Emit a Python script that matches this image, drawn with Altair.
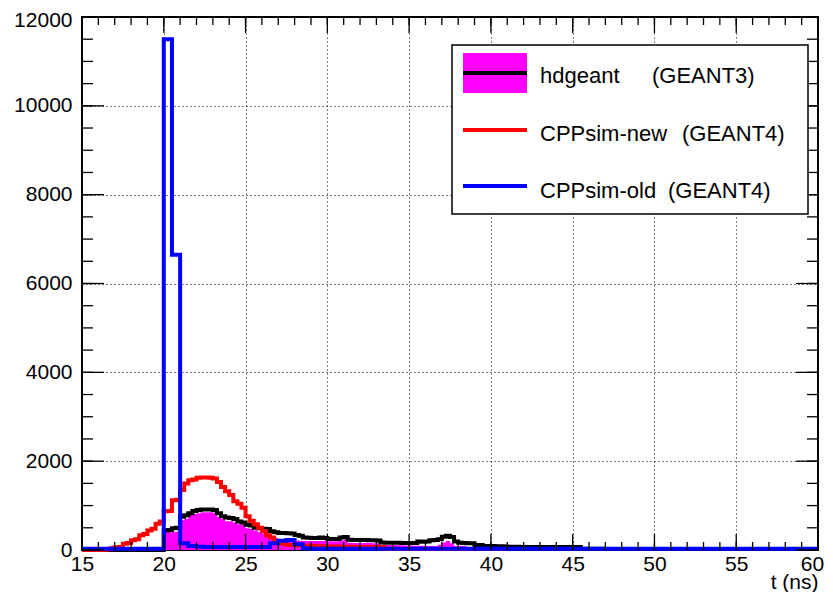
import altair as alt
import pandas as pd

# ---------------- data ----------------
T0 = 15.0
FINE_W = 0.25   # bin width of hdgeant / CPPsim-new histograms (ns)
COARSE_W = 0.5  # bin width of CPPsim-old histogram (ns)

# hdgeant (GEANT3) - filled magenta component, bins of 0.25 ns from 15 ns
hdgeant_fill = [
    0, 0, 0, 0,  0, 0, 0, 0,  0, 0, 0, 0,  0, 0, 0, 0,  0, 0, 0, 0,      # 15-19
    400, 400, 410, 410,        # 20
    670, 700, 790, 810,        # 21
    830, 850, 850, 850,        # 22
    840, 750, 700, 650,        # 23
    650, 620, 580, 570,        # 24
    490, 470, 440, 400,        # 25
    370, 340, 290, 270,        # 26
    240, 220, 220, 220,        # 27
    215, 210, 205, 200,        # 28
    200, 200, 200, 200,        # 29
    195, 195, 195, 220,        # 30
    230, 160, 155, 155,        # 31
    155, 155, 155, 150,        # 32
    150, 110, 110, 110,        # 33
    110, 105, 105, 100,        # 34
    100, 95, 95, 95,           # 35
    90, 90, 90, 120,           # 36
    170, 200, 150, 90,         # 37
    90, 90, 60, 0,             # 38
    0, 0, 0, 0,                # 39
]

# hdgeant (GEANT3) - black outline, bins of 0.25 ns from 15 ns
hdgeant_line = [
    0, 0, 0, 0,  0, 0, 0, 0,  0, 0, 0, 0,  0, 0, 0, 0,  0, 0, 0, 0,      # 15-19
    440, 450, 490, 500,        # 20
    750, 780, 830, 880,        # 21
    900, 910, 910, 910,        # 22
    900, 830, 760, 730,        # 23
    720, 700, 640, 620,        # 24
    570, 550, 500, 490,        # 25
    480, 470, 420, 400,        # 26
    380, 380, 375, 370,        # 27
    340, 320, 280, 275,        # 28
    270, 270, 280, 270,        # 29
    245, 245, 245, 280,        # 30
    290, 230, 225, 225,        # 31
    225, 225, 220, 220,        # 32
    215, 170, 165, 165,        # 33
    165, 165, 160, 160,        # 34
    155, 155, 190, 185,        # 35
    190, 220, 225, 240,        # 36
    300, 320, 290, 190,        # 37
    165, 155, 150, 150,        # 38
    115, 110, 90, 90,          # 39
    90, 85, 85, 80,            # 40
    75, 75, 75, 70,            # 41
    70, 65, 65, 65,            # 42
    65, 65, 65, 65,            # 43
    65, 65, 65, 65,            # 44
    65, 65, 30, 30,            # 45
    30, 30, 30, 30,            # 46
]

# CPPsim-new (GEANT4) - red, bins of 0.25 ns from 15 ns
cppsim_new = [
    0, 0, 0, 0,                # 15
    0, 5, 15, 40,              # 16
    60, 70, 140, 160,          # 17
    220, 240, 330, 360,        # 18
    440, 480, 590, 640,        # 19
    870, 880, 1120, 1130,      # 20
    1350, 1500, 1570, 1590,    # 21
    1625, 1630, 1630, 1625,    # 22
    1610, 1530, 1420, 1320,    # 23
    1240, 1100, 1040, 950,     # 24
    760, 660, 580, 500,        # 25
    420, 330, 280, 200,        # 26
    170, 140, 110, 110,        # 27
    105, 100, 100, 95,         # 28
    90, 85, 85, 80,            # 29
    80, 80, 80, 75,            # 30
    75, 75, 75, 70,            # 31
    70, 70, 70, 70,            # 32
    65, 65, 25, 25,            # 33
    25, 25, 25, 25,            # 34
    25, 25, 25, 25,            # 35
    25, 25, 25, 25,            # 36
    25, 25, 25, 25,            # 37
    25, 25, 25, 25,            # 38
    25, 25, 25, 25,            # 39
    25, 25, 25, 25,            # 40
]

# CPPsim-old (GEANT4) - blue, bins of 0.5 ns from 15 ns
cppsim_old = [
    30, 30, 30, 30, 30, 30, 30, 30, 30, 30,       # 15.0-19.5
    11500, 6650,               # 20
    150, 90,                   # 21
    75, 70,                    # 22
    70, 65,                    # 23
    65, 65,                    # 24
    65, 65,                    # 25
    70, 150,                   # 26
    210, 225,                  # 27
    130, 40,                   # 28
    30, 30, 30, 30, 30, 30, 30, 30, 30, 30,       # 29-33.5
    30, 30, 30, 30, 30, 30, 30, 30, 30, 30,       # 34-38.5
    30, 30, 30, 30, 30, 30, 30, 30, 30, 30,       # 39-43.5
    30, 30, 30, 30, 30, 30, 30, 30, 30, 30,       # 44-48.5
    30, 30, 30, 30, 30, 30, 30, 30, 30, 30,       # 49-53.5
    30, 30, 30, 30, 30, 30, 30, 30, 30, 30,       # 54-58.5
    30, 30,                                       # 59-59.5
]

x_major = [15, 20, 25, 30, 35, 40, 45, 50, 55, 60]
x_minor = [15, 16, 17, 18, 19, 20, 21, 22, 23, 24, 25, 26, 27, 28, 29, 30,
           31, 32, 33, 34, 35, 36, 37, 38, 39, 40, 41, 42, 43, 44, 45, 46,
           47, 48, 49, 50, 51, 52, 53, 54, 55, 56, 57, 58, 59, 60]
y_major = [0, 2000, 4000, 6000, 8000, 10000, 12000]
y_minor = [0, 500, 1000, 1500, 2000, 2500, 3000, 3500, 4000, 4500, 5000,
           5500, 6000, 6500, 7000, 7500, 8000, 8500, 9000, 9500, 10000,
           10500, 11000, 11500, 12000]

legend_names = ["hdgeant", "CPPsim-new", "CPPsim-old"]
legend_notes = ["(GEANT3)", "(GEANT4)", "(GEANT4)"]
x_title = "t (ns)"

# ---------------- layout ----------------
W, H = 736, 533
TOP = 9
FONT = "Liberation Sans"


def steps(vals, w):
    edges = [T0 + i * w for i in range(len(vals) + 1)]
    return pd.DataFrame({"t": edges, "v": list(vals) + [vals[-1]]})


x_scale = alt.Scale(domain=[15, 60], nice=False, zero=False)
y_scale = alt.Scale(domain=[0, 12000], nice=False, zero=False)

x_axis = alt.Axis(values=x_major, ticks=False, domain=False, grid=True,
                  gridDash=[1, 3], gridColor="black", gridWidth=1,
                  labelFont=FONT, labelFontSize=21, labelColor="black",
                  labelPadding=3, labelOverlap=False, labelFlush=False,
                  labelOffset=alt.condition("datum.value == 60",
                                            alt.value(-6), alt.value(0)),
                  format="d",
                  title=x_title, titleFont=FONT, titleFontSize=21,
                  titleFontWeight="normal", titleColor="black",
                  titleX=W, titleY=42, titleAlign="right",
                  titleBaseline="bottom", titleAnchor="end")
y_axis = alt.Axis(values=y_major, ticks=False, domain=False, grid=True,
                  gridDash=[1, 3], gridColor="black", gridWidth=1,
                  labelFont=FONT, labelFontSize=21, labelColor="black",
                  labelPadding=10, labelOverlap=False, labelFlush=False,
                  labelOffset=alt.condition("datum.value == 12000",
                                            alt.value(3), alt.value(0)),
                  labelBaseline="middle", format="d", title="")


def X(field):
    return alt.X(field, scale=x_scale, axis=x_axis)


def Y(field):
    return alt.Y(field, scale=y_scale, axis=y_axis)


fill_layer = alt.Chart(steps(hdgeant_fill, FINE_W)).mark_area(
    interpolate="step-after", color="#ff00ff", opacity=1
).encode(x=X("t:Q"), y=Y("v:Q"))


def line_layer(vals, w, color):
    return alt.Chart(steps(vals, w)).mark_line(
        interpolate="step-after", color=color, strokeWidth=4,
        strokeJoin="miter", strokeCap="butt"
    ).encode(x=X("t:Q"), y=Y("v:Q"))


black_layer = line_layer(hdgeant_line, FINE_W, "black")
red_layer = line_layer(cppsim_new, FINE_W, "#ff0000")
blue_layer = line_layer(cppsim_old, COARSE_W, "#0000ff")


def xticks(vals, length, top):
    y0 = 0 if top else H
    y1 = length if top else H - length
    return alt.Chart(pd.DataFrame({"t": vals})).mark_rule(
        color="black", strokeWidth=1.3
    ).encode(x=X("t:Q"), y=alt.value(y0), y2=alt.value(y1))


def yticks(vals, length, right):
    x0 = W if right else 0
    x1 = W - length if right else length
    return alt.Chart(pd.DataFrame({"v": vals})).mark_rule(
        color="black", strokeWidth=1.3
    ).encode(y=Y("v:Q"), x=alt.value(x0), x2=alt.value(x1))


tick_layers = [
    xticks(x_major, 16, False), xticks(x_minor, 8, False),
    xticks(x_major, 16, True), xticks(x_minor, 8, True),
    yticks(y_major, 22, False), yticks(y_minor, 11, False),
    yticks(y_major, 22, True), yticks(y_minor, 11, True),
]

# ---------------- legend (ROOT TLegend style) ----------------
one = pd.DataFrame({"k": [0]})
leg_box = alt.Chart(one).mark_rect(
    fill="white", stroke="black", strokeWidth=1.5
).encode(x=alt.value(370), x2=alt.value(726), y=alt.value(28), y2=alt.value(197))

leg_fill = alt.Chart(one).mark_rect(color="#ff00ff").encode(
    x=alt.value(381), x2=alt.value(445), y=alt.value(36), y2=alt.value(76))

leg_lines = []
for yy, col in [(56, "black"), (113, "#ff0000"), (169, "#0000ff")]:
    leg_lines.append(alt.Chart(one).mark_rule(color=col, strokeWidth=4).encode(
        x=alt.value(381), x2=alt.value(445), y=alt.value(yy)))

leg_texts = []
name_y = [59, 117, 174]
note_x = [570, 600, 586]
for i in range(3):
    d = pd.DataFrame({"name": [legend_names[i]], "note": [legend_notes[i]]})
    leg_texts.append(alt.Chart(d).mark_text(
        align="left", baseline="middle", font=FONT, fontSize=22, color="black"
    ).encode(text="name:N", x=alt.value(458), y=alt.value(name_y[i])))
    leg_texts.append(alt.Chart(d).mark_text(
        align="left", baseline="middle", font=FONT, fontSize=22, color="black"
    ).encode(text="note:N", x=alt.value(note_x[i]), y=alt.value(name_y[i])))

chart = alt.layer(
    fill_layer, black_layer, red_layer, blue_layer,
    *tick_layers,
    leg_box, leg_fill, *leg_lines, *leg_texts,
).properties(
    width=W, height=H,
    autosize=alt.AutoSizeParams(type="none"),
    padding={"left": 74, "top": TOP, "right": 7, "bottom": 42},
    background="white",
).configure_view(
    stroke="black", strokeWidth=2
)

chart.save("out.html", embed_options={"renderer": "svg", "actions": False})
